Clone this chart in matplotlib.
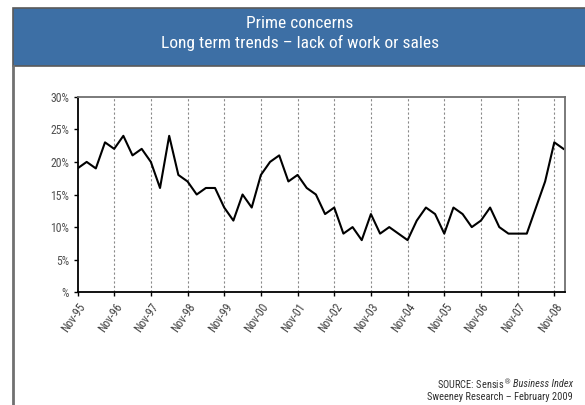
import matplotlib
matplotlib.use("Agg")
import matplotlib.pyplot as plt
from matplotlib.patches import Rectangle
from matplotlib.lines import Line2D

# quarterly readings, Nov-95 .. Feb-09 (% citing lack of work or sales)
values = [19, 20, 19, 23, 22, 24, 21, 22, 20, 16, 24, 18, 17, 15, 16, 16,
          13, 11, 15, 13, 18, 20, 21, 17, 18, 16, 15, 12, 13, 9, 10, 8,
          12, 9, 10, 9, 8, 11, 13, 12, 9, 13, 12, 10, 11, 13, 10, 9,
          9, 9, 13, 17, 23, 22]
tick_labels = ["Nov-95", "Nov-96", "Nov-97", "Nov-98", "Nov-99", "Nov-00", "Nov-01",
               "Nov-02", "Nov-03", "Nov-04", "Nov-05", "Nov-06", "Nov-07", "Nov-08"]
y_ticks = [0, 5, 10, 15, 20, 25, 30]
y_labels = ["%", "5%", "10%", "15%", "20%", "25%", "30%"]

plt.rcParams['font.family'] = ['Liberation Sans Narrow', 'Roboto Condensed',
                               'Liberation Sans', 'DejaVu Sans']

W, H = 585, 405
fig = plt.figure(figsize=(W / 100, H / 100), dpi=100)

def px(x0, y0, x1, y1):
    # pixel box (top-left origin) -> figure fraction rect
    return [x0 / W, 1 - y1 / H, (x1 - x0) / W, (y1 - y0) / H]

# header band
r = px(12.5, 8, 590, 66)
fig.patches.append(Rectangle((r[0], r[1]), r[2], r[3], transform=fig.transFigure,
                             facecolor="#3d6fa5", edgecolor="#5a5a5a", lw=1.2))
fig.text(300 / W, 1 - 23 / H, "Prime concerns", color="white", fontsize=12.5,
         ha="center", va="center")
fig.text(300 / W, 1 - 43 / H, "Long term trends \u2013 lack of work or sales", color="white",
         fontsize=12.5, ha="center", va="center")
# left border of the slide frame
fig.lines.append(Line2D([13 / W, 13 / W], [0, 1 - 66 / H], transform=fig.transFigure,
                        color="#707070", lw=2))

ax = fig.add_axes(px(77.5, 96.7, 565.3, 292.3))
x = list(range(len(values)))
ax.plot(x, values, color="black", lw=1.5)

ax.set_xlim(0, 53.2)
ax.set_ylim(0, 30)
ticks = list(range(0, 4 * len(tick_labels), 4))
ax.set_xticks(ticks)
ax.set_xticklabels(tick_labels, rotation=55, ha="right", rotation_mode="anchor",
                   fontsize=8.5, color="#404040")
ax.set_yticks(y_ticks)
ax.set_yticklabels(y_labels, fontsize=8.5, color="#505050")
ax.tick_params(axis="both", direction="out", length=3, width=1, pad=3)
for t in ticks[1:]:
    ax.axvline(t, color="#8a8a8a", lw=0.8, ls=(0, (2, 2)), zorder=0)

for side in ["left", "bottom"]:
    ax.spines[side].set_color("black")
    ax.spines[side].set_linewidth(1.3)
for side in ["top", "right"]:
    ax.spines[side].set_color("#707070")
    ax.spines[side].set_linewidth(1.3)

# source line: italic part at the right end, plain part placed before it
src = fig.text(573 / W, 1 - 384 / H, "Business Index", fontsize=7.5, ha="right",
               va="center", color="#303030", style="italic")
fig.canvas.draw()
bb = src.get_window_extent()
fig.text(bb.x0 / W, 1 - 384 / H, "SOURCE: Sensis$^{\u00ae}$ ", fontsize=7.5, ha="right",
         va="center", color="#303030")
fig.text(573 / W, 1 - 396.5 / H, "Sweeney Research \u2013 February 2009", fontsize=7.5,
         ha="right", va="center", color="#303030")

fig.savefig("out.png", dpi=100)
